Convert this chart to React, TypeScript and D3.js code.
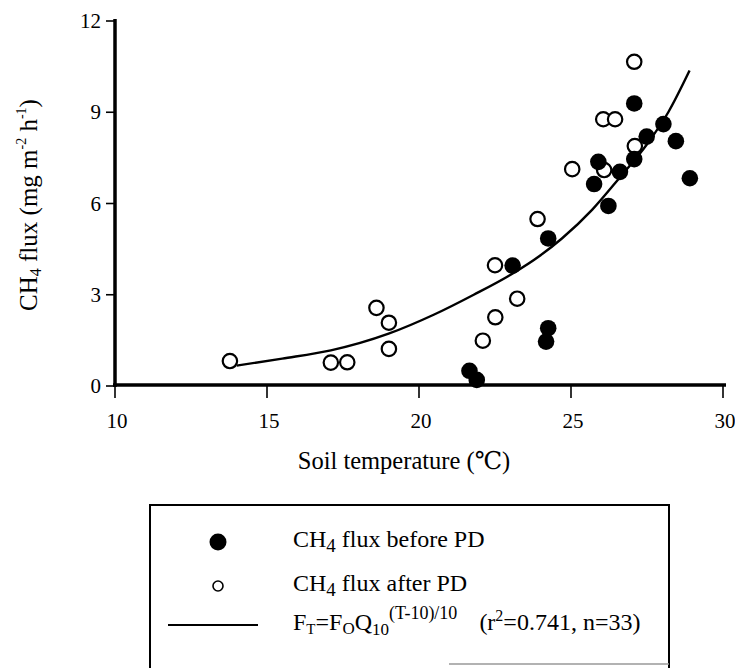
import React from 'react';
import * as d3 from 'd3';

// tick labels
const xTicks = [10, 15, 20, 25, 30];
const yTicks = [0, 3, 6, 9, 12];

// CH4 flux before PD (filled)
const beforeTemp = [21.66, 21.9, 23.08, 24.25, 24.25, 24.18, 26.23, 27.08, 28.04, 27.49, 28.45, 27.08, 25.9, 26.61, 25.76, 28.91];
const beforeFlux = [0.5, 0.2, 3.96, 4.85, 1.9, 1.46, 5.92, 9.29, 8.61, 8.2, 8.05, 7.46, 7.37, 7.04, 6.64, 6.83];

// CH4 flux after PD (open)
const afterTemp = [13.78, 17.1, 17.64, 18.6, 19.01, 19.01, 22.1, 22.51, 22.5, 23.23, 23.9, 27.08, 26.06, 26.45, 27.1, 26.09, 25.04];
const afterFlux = [0.82, 0.77, 0.78, 2.57, 2.08, 1.22, 1.49, 2.26, 3.97, 2.87, 5.49, 10.66, 8.77, 8.77, 7.89, 7.1, 7.13];

// fitted curve
const fitTemp = [14.0, 15.5, 17.1, 19.0, 20.5, 21.8, 23.0, 24.0, 24.7, 25.7, 26.6, 27.5, 28.2, 28.9];
const fitFlux = [0.67, 0.9, 1.17, 1.72, 2.35, 3.0, 3.65, 4.3, 4.85, 5.8, 6.85, 7.95, 9.0, 10.37];

const FONT = "'Liberation Serif', 'DejaVu Serif', serif";

const App = () => {
  const x = d3.scaleLinear().domain([10, 30]).range([115, 723]);
  const y = d3.scaleLinear().domain([0, 12]).range([386, 21]);

  const fitData: [number, number][] = fitTemp.map((t, i) => [t, fitFlux[i]]);
  const line = d3.line<[number, number]>()
    .x(d => x(d[0]))
    .y(d => y(d[1]))
    .curve(d3.curveMonotoneX);

  const legendLine = d3.line()([[168, 625], [258, 625]]);

  return (
    <svg width={735} height={668}
      style={{ position: 'absolute', left: 0, top: 0, background: '#fff', fontFamily: FONT }}>
      {/* fit curve */}
      <path d={line(fitData) || ''} fill="none" stroke="#000" strokeWidth={2.4} />

      {/* after PD open circles */}
      {afterTemp.map((t, i) => (
        <circle key={'a' + i} cx={x(t)} cy={y(afterFlux[i])} r={7.2} fill="#fff" stroke="#000" strokeWidth={2.2} />
      ))}
      {/* before PD filled */}
      {beforeTemp.map((t, i) => (
        <circle key={'b' + i} cx={x(t)} cy={y(beforeFlux[i])} r={8.3} fill="#000" />
      ))}

      {/* axes */}
      <line x1={115} x2={115} y1={19} y2={387} stroke="#000" strokeWidth={3.5} />
      <line x1={113} x2={726} y1={385} y2={385} stroke="#000" strokeWidth={3.5} />

      {yTicks.map(v => (
        <g key={'y' + v}>
          <line x1={106} x2={115} y1={y(v)} y2={y(v)} stroke="#000" strokeWidth={1.6} />
          <text x={101} y={y(v) + 7} textAnchor="end" fontSize={21}>{v}</text>
        </g>
      ))}
      {xTicks.map(v => (
        <g key={'x' + v}>
          <line x1={x(v)} x2={x(v)} y1={385} y2={398} stroke="#000" strokeWidth={1.6} />
          <text x={x(v) + 2} y={428} textAnchor="middle" fontSize={21}>{v}</text>
        </g>
      ))}

      {/* axis titles */}
      <text x={404} y={469} textAnchor="middle" fontSize={24.5}>Soil temperature (℃)</text>
      <text transform="translate(37,205) rotate(-90)" textAnchor="middle" fontSize={25}>
        CH<tspan fontSize={16} dy={4}>4</tspan><tspan dy={-4}> flux (mg m</tspan>
        <tspan fontSize={14} dy={-11}>-2</tspan><tspan dy={11}> h</tspan>
        <tspan fontSize={14} dy={-11}>-1</tspan><tspan dy={11}>)</tspan>
      </text>

      {/* legend */}
      <path d="M150,668 L150,505 L669,505 L669,668" fill="none" stroke="#000" strokeWidth={2} />
      <line x1={449} x2={669} y1={664} y2={664} stroke="#999" strokeWidth={1.5} />
      <circle cx={218} cy={542} r={8.5} fill="#000" />
      <circle cx={218} cy={586} r={5} fill="#fff" stroke="#000" strokeWidth={1.6} />
      <path d={legendLine || ''} stroke="#000" strokeWidth={2} />

      <text x={293} y={547} fontSize={24}>
        CH<tspan fontSize={19} dy={5}>4</tspan><tspan dy={-5}> flux before PD</tspan>
      </text>
      <text x={293} y={591} fontSize={24}>
        CH<tspan fontSize={19} dy={5}>4</tspan><tspan dy={-5}> flux after PD</tspan>
      </text>
      <text x={293} y={630} fontSize={24}>
        F<tspan fontSize={15} dy={4}>T</tspan><tspan dy={-4}>=F</tspan>
        <tspan fontSize={17} dy={4}>O</tspan><tspan dy={-4}>Q</tspan>
        <tspan fontSize={17} dy={5}>10</tspan>
        <tspan fontSize={18} dy={-16}>(T-10)/10</tspan>
        <tspan dy={11} dx={22}>(r</tspan><tspan fontSize={16} dy={-9}>2</tspan>
        <tspan dy={9}>=0.741, n=33)</tspan>
      </text>
    </svg>
  );
};

export default App;
